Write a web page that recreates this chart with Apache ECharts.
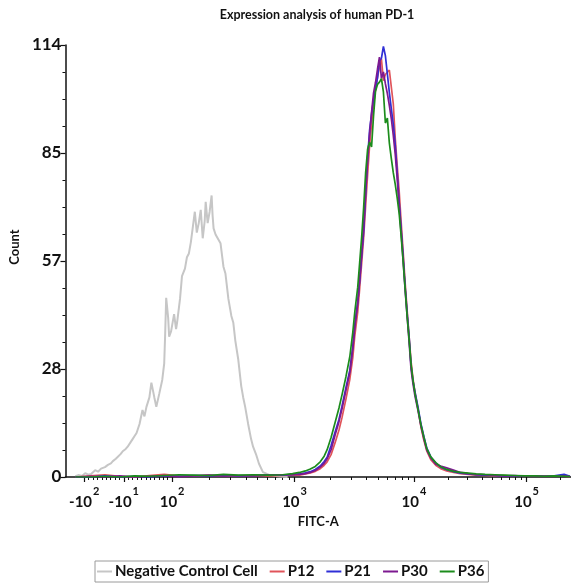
<!DOCTYPE html>
<html><head><meta charset="utf-8">
<script src="https://cdn.jsdelivr.net/npm/echarts@6/dist/echarts.min.js"></script>
<style>html,body{margin:0;padding:0;background:#fff}#c{width:571px;height:586px}</style>
</head><body><div id="c"></div>
<script>
// ---- data (x = display channel on the biexponential FITC-A scale, 0..1024) ----
const seriesNames = ['Negative Control Cell', 'P12', 'P21', 'P30', 'P36'];

const negX = [
20,26,34,40,46,52,60,66,72,80,86,92,
96,102,106,112,116,122,126,132,136,140,144,150,
156,160,164,170,174,180,184,190,196,200,202,204,
208,210,214,220,224,226,232,236,242,246,250,254,
258,262,266,270,274,278,282,284,288,292,296,298,
300,304,308,314,320,324,330,336,340,344,350,356,
360,364,370,376,380,386,392,400,408,414,430,450];
const negCount = [
0.2,0.5,0.3,1.0,0.6,0.8,1.8,1.4,2.2,2.6,3.2,3.6,
4.2,4.8,5.3,6.1,6.8,7.4,8.0,9.2,10.0,10.8,11.6,14.0,
17.7,16.0,18.5,21.0,24.9,21.0,18.5,22.0,25.6,30.0,38.0,47.3,
42.0,37.0,38.5,43.0,39.0,40.7,47.0,53.0,55.0,58.0,59.0,62.0,
66.0,70.0,64.5,67.0,70.5,63.0,67.5,72.6,67.0,70.0,74.3,69.0,
65.6,64.0,63.5,61.7,55.5,53.7,47.0,42.5,40.7,36.0,31.0,24.0,
21.0,18.5,14.0,10.0,8.0,6.0,3.5,1.3,0.8,0.5,0.2,0.0];

const posX = [
20,50,80,110,140,170,200,230,260,290,320,350,
380,410,440,460,474,486,496,506,516,524,530,538,
546,554,560,568,576,582,586,592,596,600,604,608,
612,616,620,624,628,632,636,640,644,648,652,656,
660,664,668,672,676,680,684,688,692,696,700,704,
708,714,720,726,732,740,750,760,772,786,800,816,
832,850,870,890,910,930,950,970,990,1010,1022];
const p12 = [
0,0.3,0.6,0.2,0,0.4,0.7,0.3,0.2,0.5,0.3,0.2,
0.4,0.3,0.4,0.5,0.5,0.8,1.1,1.5,2.2,3.1,4.0,5.9,
9.0,12.4,15.6,20.5,25.8,31.5,37.2,43.6,49.8,56.4,63.2,71.5,
79.8,87.4,93.2,98.5,102.1,105.4,108.2,110.3,104.6,106.2,105.9,107.4,
107.0,98.5,89.4,82.1,75.3,67.2,59.4,51.3,44.1,37.2,30.5,25.8,
22.4,18.1,13.2,9.7,6.8,4.6,3.1,2.2,1.6,1.2,0.9,0.7,
0.5,0.4,0.3,0.4,0.2,0.3,0.2,0.3,0.2,0.2,0.1];
const p21 = [
0,0,0.3,0,0.2,0,0.3,0.2,0.4,0.3,0.5,0.3,
0.4,0.6,0.5,0.7,0.8,1.1,1.4,2.0,2.9,4.1,5.2,8.3,
11.8,15.2,18.6,23.5,28.2,34.5,40.2,46.3,51.8,58.5,64.7,74.6,
84.2,91.5,95.8,99.6,102.4,105.3,109.8,110.5,113.6,111.2,106.4,101.5,
97.2,93.1,87.6,80.2,72.4,65.3,58.1,50.2,43.4,37.1,29.3,25.2,
22.4,18.5,14.1,10.7,7.6,5.3,3.7,2.6,1.9,1.4,1.0,0.8,
0.6,0.5,0.4,0.3,0.3,0.2,0.3,0.2,0.3,0.7,0.2];
const p30 = [
0,0.2,0,0.3,0,0.2,0.4,0,0.3,0.5,0.2,0.4,
0.3,0.5,0.6,0.6,0.7,0.9,1.2,1.7,2.6,3.6,4.8,7.2,
11.0,14.6,17.9,22.8,27.6,33.8,39.5,45.8,52.6,59.1,66.3,75.8,
83.6,90.4,96.2,101.3,104.1,107.6,110.8,105.2,106.9,103.8,101.2,98.1,
94.6,90.2,85.1,78.6,71.2,64.3,57.1,49.4,42.5,35.8,28.4,24.6,
21.3,17.6,13.5,10.1,7.1,5.0,3.4,2.9,2.4,1.8,1.2,0.9,
0.7,0.6,0.4,0.3,0.4,0.2,0.3,0.2,0.2,0.3,0.1];
const p36 = [
0,0,0.2,0,0.3,0.2,0.4,0.6,0.5,0.4,0.7,0.5,
0.6,0.5,0.6,0.9,1.2,1.6,2.1,2.8,4.0,5.5,7.2,10.4,
14.3,18.2,21.6,26.4,31.8,38.2,43.5,50.1,56.7,63.4,71.2,80.3,
86.5,88.4,87.1,95.3,101.8,103.6,104.2,105.1,101.6,93.4,94.7,88.2,
84.1,80.3,77.2,73.6,69.4,63.5,56.8,49.7,42.6,36.4,29.8,25.5,
22.0,17.9,13.8,10.5,7.4,5.3,3.8,2.7,2.0,1.5,1.2,1.0,
0.8,0.7,0.6,0.5,0.4,0.3,0.3,0.2,0.3,0.2,0.1];

// x tick labels (FITC-A values) and their printed form
const tickValues = [-100, -10, 100, 1000, 10000, 100000];
const tickBase   = ['-10', '-10', '10', '10', '10', '10'];
const tickExp    = ['2', '1', '2', '3', '4', '5'];
const yTicks = [0, 28, 57, 85, 114];

// ---- biexponential display transform (value -> channel) ----
const LIN_ZERO = 127, LIN_PER_UNIT = 0.89;          // linear region |v| <= 100
const DECADE_CH = [[2, 216], [3, 464], [4, 706], [5, 934], [6, 1162]];
function chOf(v) {
  if (v <= 100) return LIN_ZERO + v * LIN_PER_UNIT;
  const l = Math.log10(v);
  for (let i = 0; i < DECADE_CH.length - 1; i++) {
    const a = DECADE_CH[i], b = DECADE_CH[i + 1];
    if (l <= b[0]) return a[1] + (l - a[0]) * (b[1] - a[1]);
  }
  return DECADE_CH[DECADE_CH.length - 1][1];
}
const majorCh = tickValues.map(chOf);
const minorCh = [];
for (let v = -90; v <= 90; v += 10) minorCh.push(chOf(v));
for (let d = 100; d <= 100000; d *= 10)
  for (let k = 2; k <= 9; k++) { const c = chOf(k * d); if (c <= 1024) minorCh.push(c); }

const FONT = 'Lato, "Open Sans", sans-serif';
const colors = ['#c6c6c6', '#e0545a', '#2f2fd6', '#7d1990', '#1c8c1c'];

function zip(xs, ys) { return xs.map((x, i) => [x, ys[i]]); }
const seriesData = [zip(negX, negCount), zip(posX, p12), zip(posX, p21), zip(posX, p30), zip(posX, p36)];

const chart = echarts.init(document.getElementById('c'), null, { renderer: 'canvas' });
chart.setOption({
  animation: false,
  backgroundColor: '#fff',
  title: {
    text: 'Expression analysis of human PD-1',
    left: 312, top: 3, textAlign: 'center',
    textStyle: { fontFamily: FONT, fontSize: 12.5, fontWeight: 'bold', color: '#111' }
  },
  legend: {
    data: seriesNames,
    left: 95, top: 561,
    icon: 'rect', itemWidth: 15, itemHeight: 2, itemGap: 12,
    borderColor: '#9a9a9a', borderWidth: 1, padding: [3, 4, 3, 2],
    textStyle: { fontFamily: FONT, fontSize: 15, fontWeight: 'bold', color: '#111', padding: [0, 0, 0, -2] }
  },
  grid: { left: 60, right: 0, top: 45, bottom: 109 },
  xAxis: [{
    type: 'value', min: 0, max: 1024,
    name: 'FITC-A', nameLocation: 'middle', nameGap: 38,
    nameTextStyle: { fontFamily: FONT, fontSize: 13, fontWeight: 'bold', color: '#111' },
    axisLine: { lineStyle: { color: '#111', width: 1.5 } },
    axisTick: { customValues: majorCh, length: 5, lineStyle: { color: '#111', width: 1.2 } },
    splitLine: { show: false },
    axisLabel: {
      customValues: majorCh, margin: 9,
      formatter: function (v) {
        let i = 0, best = 1e9;
        majorCh.forEach((c, k) => { if (Math.abs(c - v) < best) { best = Math.abs(c - v); i = k; } });
        return '{b|' + tickBase[i] + '}{s|' + tickExp[i] + '}';
      },
      rich: {
        b: { fontFamily: FONT, fontSize: 15, fontWeight: 'bold', color: '#111' },
        s: { fontFamily: FONT, fontSize: 11, fontWeight: 'bold', color: '#111', padding: [0, 0, 22, 1] }
      }
    }
  }, {
    type: 'value', min: 0, max: 1024, position: 'bottom',
    axisLine: { show: false },
    axisTick: { customValues: minorCh, length: 3, lineStyle: { color: '#111', width: 1 } },
    axisLabel: { show: false }, splitLine: { show: false }
  }],
  yAxis: {
    type: 'value', min: 0, max: 114, interval: 28.5,
    name: 'Count', nameLocation: 'middle', nameGap: 40,
    nameTextStyle: { fontFamily: FONT, fontSize: 13, fontWeight: 'bold', color: '#111', padding: [0, 0, 0, 28] },
    axisLine: { show: true, lineStyle: { color: '#111', width: 1.5 } },
    axisTick: { show: true, length: 5, lineStyle: { color: '#111', width: 1.2 } },
    minorTick: { show: true, splitNumber: 4, length: 3, lineStyle: { color: '#111' } },
    splitLine: { show: false },
    axisLabel: {
      margin: 4, fontFamily: FONT, fontSize: 17, fontWeight: 'bold', color: '#111',
      formatter: function (v) { let best = yTicks[0]; yTicks.forEach(t => { if (Math.abs(t - v) < Math.abs(best - v)) best = t; }); return String(best); }
    }
  },
  series: seriesNames.map((n, i) => ({
    name: n, type: 'line', xAxisIndex: 0, data: seriesData[i],
    symbol: 'none', smooth: false, z: 2 + i,
    lineStyle: { color: colors[i], width: i === 0 ? 2 : 1.7 },
    itemStyle: { color: colors[i] }
  }))
});
</script></body></html>
